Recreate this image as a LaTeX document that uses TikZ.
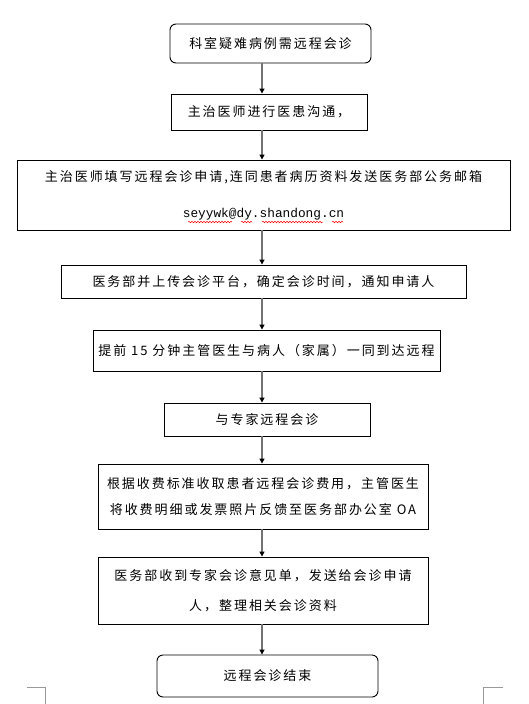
\documentclass[tikz,border=0pt]{standalone}
\usepackage{fontspec}
\usetikzlibrary{arrows.meta,decorations.pathmorphing}
\newfontfamily\cjk[LetterSpace=15]{Noto Sans CJK SC}
\newfontfamily\monof{Liberation Mono}
\begin{document}
\begin{tikzpicture}[x=1pt,y=-1pt,
  box/.style={draw=black,line width=0.9pt,inner sep=0pt,align=center,
    font=\cjk\fontsize{13}{15}\selectfont},
  rbox/.style={box,rounded corners=6pt},
  arr/.style={draw=black!55,line width=1.2pt,
    -{Triangle[length=5pt,width=5pt,color=black]}},
  wavy/.style={draw=red,line width=0.5pt,decorate,
    decoration={snake,amplitude=0.7pt,segment length=3pt}},
  crop/.style={draw=black!40,line width=0.8pt}]
\useasboundingbox[fill=white] (0,0) rectangle (528,704);
\coordinate (ax) at (262,0);

\node[rbox,minimum width=201pt,minimum height=39pt] (b1) at (270.5,43.5) {科室疑难病例需远程会诊};
\node[box,minimum width=196pt,minimum height=36pt] (b2) at (269,112) {主治医师进行医患沟通，};
\node[box,minimum width=493pt,minimum height=70pt] (b3) at (263.5,195) {主治医师填写远程会诊申请,连同患者病历资料发送医务部公务邮箱\\[21pt]{\monof\fontsize{12.8}{15}\selectfont seyywk@dy.shandong.cn}};
\node[box,minimum width=405pt,minimum height=33pt] (b4) at (263.5,281.5) {医务部并上传会诊平台，确定会诊时间，通知申请人};
\node[box,minimum width=347pt,minimum height=41pt] (b5) at (266.5,350.5) {提前 15 分钟主管医生与病人（家属）一同到达远程};
\node[box,minimum width=206pt,minimum height=33pt] (b6) at (267,419.5) {与专家远程会诊};
\node[box,minimum width=330pt,minimum height=65pt] (b7) at (263,496.5) {根据收费标准收取患者远程会诊费用，主管医生\\[11pt]将收费明细或发票照片反馈至医务部办公室 OA};
\node[box,minimum width=330pt,minimum height=67pt] (b8) at (263,590.5) {医务部收到专家会诊意见单，发送给会诊申请\\[15pt]人，整理相关会诊资料};
\node[rbox,minimum width=221pt,minimum height=42pt] (b9) at (267.5,676) {远程会诊结束};

\draw[arr] (b1.south -| ax) -- (b2.north -| ax);
\draw[arr] (b2.south -| ax) -- (b3.north -| ax);
\draw[arr] (b3.south -| ax) -- (b4.north -| ax);
\draw[arr] (b4.south -| ax) -- (b5.north -| ax);
\draw[arr] (b5.south -| ax) -- (b6.north -| ax);
\draw[arr] (b6.south -| ax) -- (b7.north -| ax);
\draw[arr] (b7.south -| ax) -- (b8.north -| ax);
\draw[arr] (b8.south -| ax) -- (b9.north -| ax);

% spell-check underlines
\draw[wavy] (188,222) -- (232,222);
\draw[wavy] (241,222) -- (252,222);
\draw[wavy] (262,222) -- (323,222);
\draw[wavy] (332,222) -- (343,222);

% crop marks
\draw[crop] (27,687) -- (45,687) -- (45,704);
\draw[crop] (503,687) -- (483,687) -- (483,704);
\end{tikzpicture}
\end{document}
